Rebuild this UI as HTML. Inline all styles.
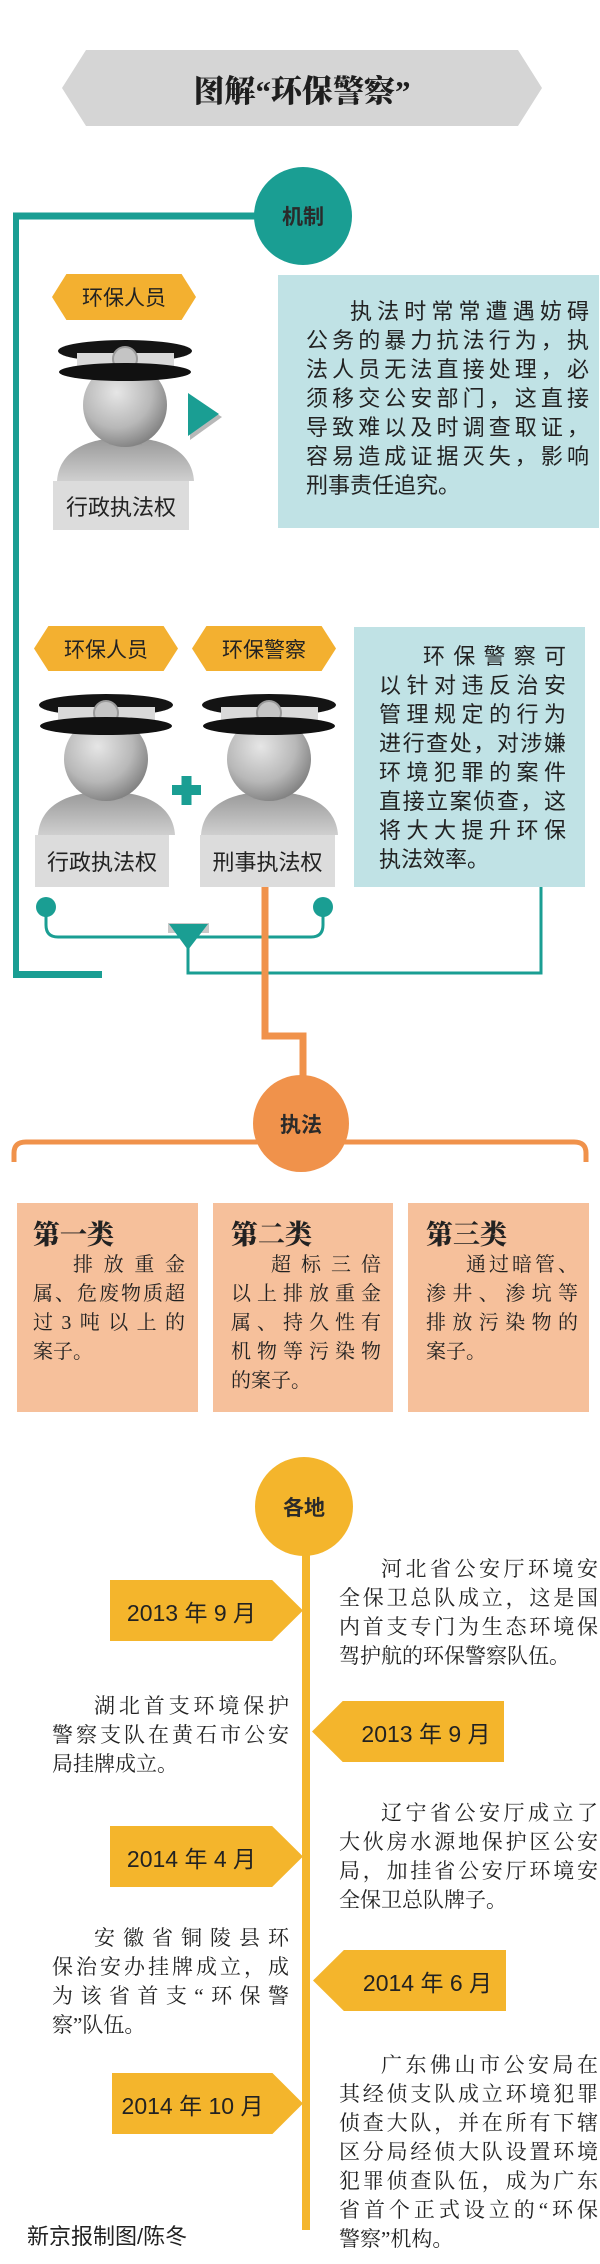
<!DOCTYPE html>
<html><head><meta charset="utf-8"><style>
*{margin:0;padding:0;box-sizing:border-box}
body{width:600px;height:2264px;position:relative;background:#fff;overflow:hidden;font-family:"Liberation Sans","Noto Sans CJK SC",sans-serif;color:#222}
.a{position:absolute}
.hex{position:absolute;background:#f3b030;clip-path:polygon(10% 0,90% 0,100% 50%,90% 100%,10% 100%,0 50%);display:flex;align-items:center;justify-content:center;font-size:21px}
.gbox{position:absolute;background:#dcdcdc;display:flex;align-items:center;justify-content:center;font-size:22px;color:#222}
.circ{position:absolute;border-radius:50%;display:flex;align-items:center;justify-content:center;font-size:21px;font-weight:bold;color:#2a2a2a}
.blue{position:absolute;background:#c0e2e5}
.tx{position:absolute;line-height:29px}
.tx div{height:29px;text-align:justify;text-align-last:justify;white-space:nowrap}
.tx div.l{text-align-last:left}
.tx div.i{text-indent:2em}
.serif{font-family:"Liberation Serif","Noto Serif CJK SC",serif}
.peach{position:absolute;background:#f6c09b;top:1203px;height:209px}
.peach h3{font-family:"Liberation Serif","Noto Serif CJK SC",serif;font-size:27px;font-weight:900;line-height:32px;margin-top:16px;color:#222}
.date{position:absolute;background:#f4b52c;display:flex;align-items:center;font-size:23px;color:#222;height:61px;white-space:nowrap}
.dr{clip-path:polygon(0 0,84% 0,100% 50%,84% 100%,0 100%);justify-content:center;padding-right:30px}
.dl{clip-path:polygon(0 50%,16% 0,100% 0,100% 100%,16% 100%);justify-content:center;padding-left:36px}
</style></head><body>

<div class="a" style="left:62px;top:50px;width:480px;height:76px;background:#d5d5d5;clip-path:polygon(5% 0,95% 0,100% 50%,95% 100%,5% 100%,0 50%);display:flex;align-items:center;justify-content:center;font-family:'Liberation Serif','Noto Serif CJK SC',serif;font-size:31px;font-weight:900;color:#1e1e1e">图解“环保警察”</div>

<svg class="a" style="left:0;top:0" width="600" height="2264">
 <defs>
  <radialGradient id="hg" cx="0.4" cy="0.35" r="0.7"><stop offset="0" stop-color="#e6e6e6"/><stop offset="0.6" stop-color="#b8b8b8"/><stop offset="1" stop-color="#7c7c7c"/></radialGradient>
  <linearGradient id="sg" x1="0" y1="0" x2="0" y2="1"><stop offset="0" stop-color="#9a9a9a"/><stop offset="1" stop-color="#cfcfcf"/></linearGradient>
  <g id="fig">
   <path d="M0,142 C2,112 30,102 50,100 L87,100 C107,102 135,112 137,142 Z" fill="url(#sg)"/>
   <rect x="52" y="80" width="33" height="26" fill="#9c9c9c"/>
   <circle cx="68" cy="66" r="42" fill="url(#hg)"/>
   <ellipse cx="68" cy="12" rx="67" ry="11" fill="#141414"/>
   <rect x="20" y="14" width="97" height="13" fill="#d9d9d9"/>
   <circle cx="68" cy="20" r="12" fill="#c4c4c4" stroke="#9a9a9a" stroke-width="2"/>
   <ellipse cx="68" cy="33" rx="66" ry="9" fill="#111"/>
  </g>
 </defs>
 <line x1="13" y1="216" x2="256" y2="216" stroke="#1a9e93" stroke-width="7"/>
 <line x1="16" y1="213" x2="16" y2="978" stroke="#1a9e93" stroke-width="6"/>
 <line x1="13" y1="974.5" x2="102" y2="974.5" stroke="#1a9e93" stroke-width="7"/>
 <polygon points="190,397 222,417 190,440" fill="#b8b8b8"/>
 <polygon points="188,393 219,414 188,436" fill="#1a9e93"/>
 <path d="M46,908 L46,925 Q46,937 58,937 L311,937 Q323,937 323,925 L323,908" fill="none" stroke="#1a9e93" stroke-width="3"/>
 <circle cx="46" cy="907" r="10" fill="#1a9e93"/>
 <circle cx="323" cy="907" r="10" fill="#1a9e93"/>
 <rect x="168" y="923" width="41" height="10" fill="#c8c8c8"/>
 <polygon points="169,924 208,924 188,950" fill="#1a9e93"/>
 <path d="M188,948 L188,973 L541,973 L541,887" fill="none" stroke="#1a9e93" stroke-width="3"/>
 <path d="M265,887 L265,1036 L303,1036 L303,1078" fill="none" stroke="#f0924b" stroke-width="7"/>
 <path d="M14,1162 L14,1153 Q14,1142 26,1142 L574,1142 Q586,1142 586,1153 L586,1162" fill="none" stroke="#f0924b" stroke-width="5"/>
 <line x1="306" y1="1540" x2="306" y2="2230" stroke="#f4b52c" stroke-width="8"/>
 <use href="#fig" x="57" y="339"/>
 <use href="#fig" x="38" y="693"/>
 <use href="#fig" x="201" y="693"/>
 <rect x="172" y="785" width="29" height="10" fill="#1a9e93"/>
 <rect x="181.5" y="776" width="10" height="29" fill="#1a9e93"/>
</svg>

<div class="circ" style="left:254px;top:167px;width:98px;height:98px;background:#1a9e93">机制</div>

<div class="hex" style="left:52px;top:274px;width:144px;height:46px">环保人员</div>
<div class="gbox" style="left:53px;top:481px;width:136px;height:49px">行政执法权</div>

<div class="blue" style="left:278px;top:275px;width:321px;height:253px"></div>
<div class="tx" style="left:306px;top:297px;width:283px;font-size:22px">
<div class="i">执法时常常遭遇妨碍</div>
<div>公务的暴力抗法行为，执</div>
<div>法人员无法直接处理，必</div>
<div>须移交公安部门，这直接</div>
<div>导致难以及时调查取证，</div>
<div>容易造成证据灭失，影响</div>
<div class="l">刑事责任追究。</div>
</div>

<div class="hex" style="left:34px;top:626px;width:144px;height:45px">环保人员</div>
<div class="hex" style="left:192px;top:626px;width:144px;height:45px">环保警察</div>
<div class="gbox" style="left:35px;top:835px;width:134px;height:52px">行政执法权</div>
<div class="gbox" style="left:200px;top:835px;width:135px;height:52px">刑事执法权</div>

<div class="blue" style="left:354px;top:627px;width:231px;height:260px"></div>
<div class="tx" style="left:379px;top:642px;width:187px;font-size:22px">
<div class="i">环保警察可</div>
<div>以针对违反治安</div>
<div>管理规定的行为</div>
<div>进行查处，对涉嫌</div>
<div>环境犯罪的案件</div>
<div>直接立案侦查，这</div>
<div>将大大提升环保</div>
<div class="l">执法效率。</div>
</div>

<div class="circ" style="left:253px;top:1075px;width:96px;height:97px;background:#f0924b">执法</div>

<div class="peach serif" style="left:17px;width:181px;padding-left:16px">
<h3>第一类</h3>
<div class="tx" style="position:static;width:152px;font-size:20px">
<div class="i">排放重金</div><div>属、危废物质超</div><div>过3吨以上的</div><div class="l">案子。</div></div></div>
<div class="peach serif" style="left:213px;width:180px;padding-left:18px">
<h3>第二类</h3>
<div class="tx" style="position:static;width:150px;font-size:20px">
<div class="i">超标三倍</div><div>以上排放重金</div><div>属、持久性有</div><div>机物等污染物</div><div class="l">的案子。</div></div></div>
<div class="peach serif" style="left:408px;width:181px;padding-left:18px">
<h3>第三类</h3>
<div class="tx" style="position:static;width:152px;font-size:20px">
<div class="i">通过暗管、</div><div>渗井、渗坑等</div><div>排放污染物的</div><div class="l">案子。</div></div></div>

<div class="circ" style="left:255px;top:1457px;width:98px;height:99px;background:#f4b52c">各地</div>

<div class="date dr" style="left:110px;top:1580px;width:193px">2013 年 9 月</div>
<div class="tx serif" style="left:339px;top:1555px;width:259px;font-size:21px">
<div class="i">河北省公安厅环境安</div><div>全保卫总队成立，这是国</div><div>内首支专门为生态环境保</div><div class="l">驾护航的环保警察队伍。</div></div>

<div class="tx serif" style="left:52px;top:1692px;width:237px;font-size:21px">
<div class="i">湖北首支环境保护</div><div>警察支队在黄石市公安</div><div class="l">局挂牌成立。</div></div>
<div class="date dl" style="left:312px;top:1701px;width:192px">2013 年 9 月</div>

<div class="date dr" style="left:110px;top:1826px;width:193px">2014 年 4 月</div>
<div class="tx serif" style="left:339px;top:1799px;width:259px;font-size:21px">
<div class="i">辽宁省公安厅成立了</div><div>大伙房水源地保护区公安</div><div>局，加挂省公安厅环境安</div><div class="l">全保卫总队牌子。</div></div>

<div class="tx serif" style="left:52px;top:1924px;width:237px;font-size:21px">
<div class="i">安徽省铜陵县环</div><div>保治安办挂牌成立，成</div><div>为该省首支“环保警</div><div class="l">察”队伍。</div></div>
<div class="date dl" style="left:313px;top:1950px;width:193px">2014 年 6 月</div>

<div class="date dr" style="left:112px;top:2073px;width:191px">2014 年 10 月</div>
<div class="tx serif" style="left:339px;top:2051px;width:259px;font-size:21px;line-height:28.3px">
<div class="i">广东佛山市公安局在</div><div>其经侦支队成立环境犯罪</div><div>侦查大队，并在所有下辖</div><div>区分局经侦大队设置环境</div><div>犯罪侦查队伍，成为广东</div><div>省首个正式设立的“环保</div><div class="l">警察”机构。</div></div>

<div class="a" style="left:27px;top:2222px;font-size:22px;line-height:30px">新京报制图/陈冬</div>
</body></html>
